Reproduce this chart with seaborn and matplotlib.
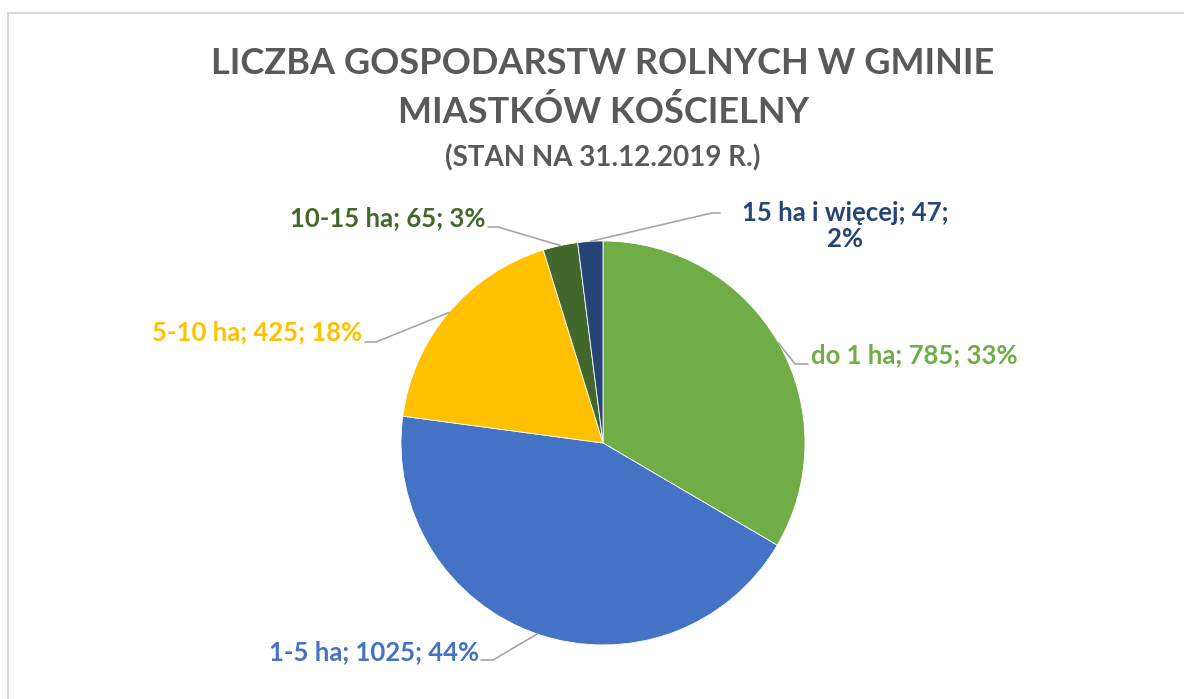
"""
Pie chart: farms by area in gmina Miastków Kościelny (2019)
"""

import numpy as np
import seaborn as sns
import matplotlib.pyplot as plt
from matplotlib.patches import Rectangle

categories = ["do 1 ha", "1-5 ha", "5-10 ha", "10-15 ha", "15 ha i więcej"]
counts = [785, 1025, 425, 65, 47]
colors = ["#70AD47", "#4472C4", "#FFC000", "#43682B", "#264478"]

W, H = 1184, 699
# label layout in pixels (top-left origin): text x, text y, align, elbow x, elbow y, line end x
label_layout = {
    "do 1 ha": (811, 355, "left", 795, 364, 808),
    "1-5 ha": (479, 652, "right", 493, 660, 481),
    "5-10 ha": (362, 332, "right", 376, 342, 365),
    "10-15 ha": (486, 218, "right", 498, 227, 488),
    "15 ha i więcej": (845, 226, "center", 712, 213, 720),
}

sns.set_theme(style="white")
plt.rcParams["font.family"] = ["Lato", "DejaVu Sans"]

fig = plt.figure(figsize=(W / 100, H / 100), dpi=100)
ax = fig.add_axes([0, 0, 1, 1])

cx, cy, r = 603, H - 443, 202
wedges, _ = ax.pie(counts, colors=colors, startangle=90, counterclock=False,
                   center=(cx, cy), radius=r,
                   wedgeprops=dict(linewidth=0.6, edgecolor="white"))
ax.set_xlim(0, W)
ax.set_ylim(0, H)
ax.axis("off")

total = sum(counts)
for w, cat, val, col in zip(wedges, categories, counts, colors):
    pct = round(val / total * 100)
    tx, ty, ha, ex, ey, lx = label_layout[cat]
    if cat == "15 ha i więcej":
        txt = f"{cat}; {val};\n{pct}%"
    else:
        txt = f"{cat}; {val}; {pct}%"
    ax.text(tx, H - ty, txt, ha=ha, va="center", color=col, fontsize=18.5,
            fontweight="bold", multialignment="center", linespacing=1.1)
    mid = np.deg2rad((w.theta1 + w.theta2) / 2)
    px, py = cx + r * np.cos(mid), cy + r * np.sin(mid)
    ax.plot([px, ex, lx], [py, H - ey, H - ey], color="#a6a6a6", lw=1.2,
            solid_joinstyle="miter")

ax.text(603, H - 63, "LICZBA GOSPODARSTW ROLNYCH W GMINIE", ha="center", va="center",
        fontsize=26, fontweight="bold", color="#595959")
ax.text(603, H - 112, "MIASTKÓW KOŚCIELNY", ha="center", va="center",
        fontsize=26, fontweight="bold", color="#595959")
ax.text(603, H - 158, "(STAN NA 31.12.2019 R.)", ha="center", va="center",
        fontsize=20, fontweight="bold", color="#595959")

ax.add_patch(Rectangle((8, -10), W, H - 13 + 10, fill=False, edgecolor="#d9d9d9",
                       linewidth=1.5, clip_on=False))

fig.savefig("out.png", dpi=100)
